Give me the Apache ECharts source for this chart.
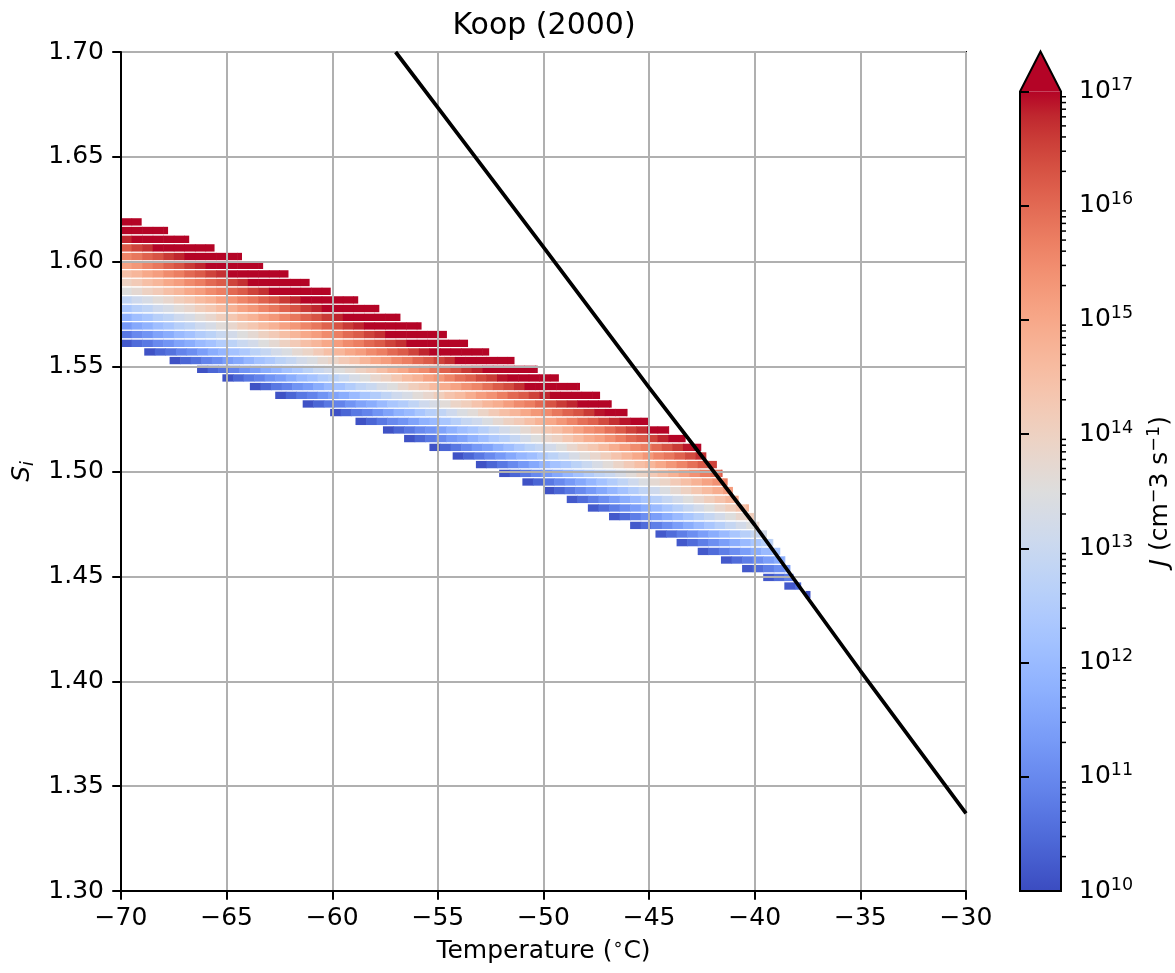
<!DOCTYPE html>
<html><head><meta charset="utf-8">
<script src="https://cdn.jsdelivr.net/npm/echarts@6/dist/echarts.min.js"></script>
<style>html,body{margin:0;padding:0;background:#fff}#c{width:1175px;height:973px}</style>
</head><body><div id="c"></div>
<script>
// ---------------- data ----------------
const xTicks = [-70, -65, -60, -55, -50, -45, -40, -35, -30];
const yTicks = [1.30, 1.35, 1.40, 1.45, 1.50, 1.55, 1.60, 1.65, 1.70];
const cbDecades = [10, 11, 12, 13, 14, 15, 16, 17];   // log10 J colour range
const tStep = 0.5;      // temperature width of one cell (deg C)
const rowHalf = 0.00175; // half height of a row (S_i units)

const rowSi = [1.6190,1.6149,1.6107,1.6066,1.6025,1.5983,1.5942,1.5901,1.5859,1.5818,1.5777,1.5735,1.5694,1.5653,1.5611,
  1.5570,1.5529,1.5487,1.5446,1.5405,1.5363,1.5322,1.5281,1.5239,1.5198,1.5157,1.5115,1.5074,1.5033,1.4991,1.4950,1.4909,
  1.4867,1.4826,1.4785,1.4743,1.4702,1.4661,1.4619,1.4578,1.4537,1.4495,1.4454,1.4413];
const rowTStart = [-70,-70,-70,-70,-70,-70,-70,-70,-70,-70,-70,-70,-70,-70,-70,
  -68.9,-67.7,-66.4,-65.2,-63.9,-62.7,-61.4,-60.1,-58.9,-57.6,-56.6,-55.4,-54.3,-53.2,-52.1,-51.0,-50.0,
  -48.9,-47.9,-46.9,-45.9,-44.7,-43.7,-42.7,-41.6,-40.6,-39.6,-38.6,-37.6];
const rowTEnd = [-69.05,-67.8,-66.8,-65.6,-64.3,-63.3,-62.1,-61.1,-60.1,-58.8,-57.8,-56.8,-55.8,-54.6,-53.6,
  -52.6,-51.4,-50.3,-49.3,-48.3,-47.35,-46.8,-46.05,-45.06,-44.08,-43.3,-42.56,-42.32,-41.82,-41.55,-41.31,-41.06,
  -40.79,-40.3,-40.05,-39.81,-39.45,-39.15,-38.82,-38.58,-38.34,-38.19,-37.83,-37.39];
// log10 J (cm^-3 s^-1) per cell along each row
const rowLogJ = [
 [18.0,18.2],
 [17.3,17.6,17.8,18.1,18.3],
 [16.8,17.1,17.3,17.6,17.8,18.1,18.3],
 [16.2,16.5,16.7,17.0,17.2,17.5,17.7,18.0,18.2],
 [15.6,15.8,16.1,16.3,16.6,16.8,17.1,17.3,17.6,17.8,18.1,18.3],
 [15.1,15.3,15.6,15.8,16.1,16.3,16.6,16.8,17.1,17.3,17.6,17.8,18.1,18.3],
 [14.5,14.7,15.0,15.2,15.5,15.7,16.0,16.2,16.5,16.7,17.0,17.2,17.5,17.7,18.0,18.2],
 [14.0,14.2,14.5,14.7,15.0,15.2,15.5,15.7,16.0,16.2,16.5,16.7,17.0,17.2,17.5,17.7,18.0,18.2],
 [13.5,13.7,14.0,14.2,14.5,14.7,15.0,15.2,15.5,15.7,16.0,16.2,16.5,16.7,17.0,17.2,17.5,17.7,18.0,18.2],
 [12.8,13.1,13.3,13.6,13.8,14.1,14.3,14.6,14.8,15.1,15.3,15.6,15.8,16.1,16.3,16.6,16.8,17.1,17.3,17.6,17.8,18.1,18.3],
 [12.3,12.6,12.8,13.1,13.3,13.6,13.8,14.1,14.3,14.6,14.8,15.1,15.3,15.6,15.8,16.1,16.3,16.6,16.8,17.1,17.3,17.6,17.8,18.1,18.3],
 [11.8,12.1,12.3,12.6,12.8,13.1,13.3,13.6,13.8,14.1,14.3,14.6,14.8,15.1,15.3,15.6,15.8,16.1,16.3,16.6,16.8,17.1,17.3,17.6,17.8,18.1,18.3],
 [11.3,11.6,11.8,12.1,12.3,12.6,12.8,13.1,13.3,13.6,13.8,14.1,14.3,14.6,14.8,15.1,15.3,15.6,15.8,16.1,16.3,16.6,16.8,17.1,17.3,17.6,17.8,18.1,18.3],
 [10.7,11.0,11.2,11.5,11.7,12.0,12.2,12.5,12.7,13.0,13.2,13.5,13.7,14.0,14.2,14.5,14.7,15.0,15.2,15.5,15.7,16.0,16.2,16.5,16.7,17.0,17.2,17.5,17.7,18.0,18.2],
 [10.2,10.5,10.7,11.0,11.2,11.5,11.7,12.0,12.2,12.5,12.7,13.0,13.2,13.5,13.7,14.0,14.2,14.5,14.7,15.0,15.2,15.5,15.7,16.0,16.2,16.5,16.7,17.0,17.2,17.5,17.7,18.0,18.2],
 [10.1,10.4,10.6,10.9,11.1,11.4,11.7,11.9,12.2,12.4,12.7,12.9,13.2,13.4,13.7,13.9,14.2,14.5,14.7,15.0,15.2,15.5,15.7,16.0,16.2,16.5,16.8,17.0,17.3,17.5,17.8,18.0,18.3],
 [10.1,10.4,10.6,10.9,11.1,11.4,11.6,11.9,12.2,12.4,12.7,12.9,13.2,13.4,13.7,13.9,14.2,14.4,14.7,15.0,15.2,15.5,15.7,16.0,16.2,16.5,16.7,17.0,17.3,17.5,17.8,18.0,18.3],
 [10.1,10.4,10.6,10.9,11.2,11.4,11.7,11.9,12.2,12.4,12.7,13.0,13.2,13.5,13.7,14.0,14.2,14.5,14.8,15.0,15.3,15.5,15.8,16.1,16.3,16.6,16.8,17.1,17.3,17.6,17.9,18.1,18.4],
 [10.1,10.4,10.7,10.9,11.2,11.4,11.7,12.0,12.2,12.5,12.7,13.0,13.3,13.5,13.8,14.0,14.3,14.6,14.8,15.1,15.3,15.6,15.9,16.1,16.4,16.6,16.9,17.2,17.4,17.7,17.9,18.2],
 [10.1,10.4,10.7,10.9,11.2,11.4,11.7,12.0,12.2,12.5,12.8,13.0,13.3,13.5,13.8,14.1,14.3,14.6,14.9,15.1,15.4,15.6,15.9,16.2,16.4,16.7,17.0,17.2,17.5,17.7,18.0,18.3],
 [10.1,10.4,10.7,10.9,11.2,11.5,11.7,12.0,12.3,12.5,12.8,13.1,13.3,13.6,13.8,14.1,14.4,14.6,14.9,15.2,15.4,15.7,16.0,16.2,16.5,16.8,17.0,17.3,17.6,17.8,18.1],
 [10.1,10.4,10.7,10.9,11.2,11.5,11.7,12.0,12.3,12.5,12.8,13.1,13.3,13.6,13.9,14.1,14.4,14.7,14.9,15.2,15.5,15.7,16.0,16.3,16.6,16.8,17.1,17.4,17.6,17.9],
 [10.1,10.4,10.7,10.9,11.2,11.5,11.8,12.0,12.3,12.6,12.8,13.1,13.4,13.6,13.9,14.2,14.5,14.7,15.0,15.3,15.5,15.8,16.1,16.3,16.6,16.9,17.2,17.4,17.7],
 [10.1,10.4,10.7,11.0,11.2,11.5,11.8,12.0,12.3,12.6,12.9,13.1,13.4,13.7,14.0,14.2,14.5,14.8,15.0,15.3,15.6,15.9,16.1,16.4,16.7,16.9,17.2,17.5],
 [10.1,10.4,10.7,11.0,11.2,11.5,11.8,12.1,12.3,12.6,12.9,13.2,13.4,13.7,14.0,14.3,14.5,14.8,15.1,15.4,15.6,15.9,16.2,16.5,16.7,17.0,17.3,17.6],
 [10.1,10.4,10.7,11.0,11.3,11.5,11.8,12.1,12.4,12.6,12.9,13.2,13.5,13.8,14.0,14.3,14.6,14.9,15.1,15.4,15.7,16.0,16.2,16.5,16.8,17.1,17.4],
 [10.1,10.4,10.7,11.0,11.3,11.5,11.8,12.1,12.4,12.7,12.9,13.2,13.5,13.8,14.1,14.3,14.6,14.9,15.2,15.5,15.7,16.0,16.3,16.6,16.9,17.1],
 [10.1,10.4,10.7,11.0,11.3,11.6,11.9,12.1,12.4,12.7,13.0,13.3,13.6,13.8,14.1,14.4,14.7,15.0,15.3,15.6,15.8,16.1,16.4,16.7],
 [10.1,10.4,10.7,11.0,11.3,11.6,11.9,12.2,12.4,12.7,13.0,13.3,13.6,13.9,14.2,14.5,14.7,15.0,15.3,15.6,15.9,16.2,16.5],
 [10.1,10.4,10.7,11.0,11.3,11.6,11.9,12.2,12.5,12.8,13.0,13.3,13.6,13.9,14.2,14.5,14.8,15.1,15.4,15.7,15.9,16.2],
 [10.1,10.4,10.7,11.0,11.3,11.6,11.9,12.2,12.5,12.8,13.1,13.4,13.7,13.9,14.2,14.5,14.8,15.1,15.4,15.7],
 [10.1,10.4,10.7,11.0,11.3,11.6,11.9,12.2,12.5,12.8,13.1,13.4,13.7,14.0,14.3,14.6,14.9,15.2],
 [10.2,10.5,10.8,11.1,11.4,11.7,12.0,12.3,12.6,12.9,13.2,13.5,13.8,14.1,14.4,14.7,15.0],
 [10.2,10.5,10.8,11.1,11.4,11.7,12.0,12.3,12.6,12.9,13.2,13.5,13.8,14.1,14.4,14.7],
 [10.2,10.5,10.8,11.1,11.4,11.7,12.0,12.3,12.6,12.9,13.2,13.5,13.8,14.1],
 [10.2,10.5,10.8,11.1,11.4,11.7,12.0,12.3,12.6,12.9,13.2,13.5,13.8],
 [10.2,10.5,10.8,11.1,11.4,11.7,12.0,12.3,12.6,12.9,13.2],
 [10.2,10.5,10.8,11.1,11.4,11.7,12.0,12.3,12.6,12.9],
 [10.2,10.5,10.8,11.1,11.4,11.7,12.0,12.3],
 [10.2,10.5,10.8,11.1,11.4,11.7,12.0],
 [10.2,10.5,10.8,11.1,11.4],
 [10.2,10.5,10.8],
 [10.2,10.5],
 [10.1]
];

// black reference line (T, S_i)
const lineT  = [-57.0, -55.0, -50.0, -45.0, -40.0, -35.0, -30.0];
const lineSi = [1.700, 1.6735, 1.607, 1.540, 1.4745, 1.405, 1.337];

// ---------------- style helpers ----------------
const FONT = 'DejaVu Sans';
const CW = [[59,76,192],[68,90,204],[77,104,215],[87,117,225],[98,130,234],[108,142,241],[119,154,247],[130,165,251],
 [141,176,254],[152,185,255],[163,194,255],[174,201,253],[184,208,249],[194,213,244],[204,217,238],[213,219,230],
 [221,221,221],[229,216,209],[236,211,197],[241,204,185],[245,196,173],[247,187,160],[247,177,148],[247,166,135],
 [244,154,123],[241,141,111],[236,127,99],[229,112,88],[222,96,77],[213,80,66],[203,62,56],[192,40,47],[180,4,38]];
const cbMin = cbDecades[0], cbMax = cbDecades[cbDecades.length - 1];
function rgb(c) { return 'rgb(' + c.map(Math.round).join(',') + ')'; }
function colorFor(v) {
  let t = (v - cbMin) / (cbMax - cbMin);
  t = Math.max(0, Math.min(1, t));
  const x = t * (CW.length - 1);
  const i = Math.min(CW.length - 2, Math.floor(x));
  const f = x - i;
  return rgb([0,1,2].map(k => CW[i][k] + (CW[i+1][k] - CW[i][k]) * f));
}

const cells = [];
rowSi.forEach((si, r) => {
  rowLogJ[r].forEach((v, i) => {
    const t0 = rowTStart[r] + i * tStep;
    const t1 = Math.min(t0 + tStep, rowTEnd[r]);
    cells.push([t0, t1, si, v]);
  });
});

const minorVals = [];
for (let n = cbMin; n < cbMax; n++) for (let k = 2; k <= 9; k++) minorVals.push([n + Math.log10(k)]);

const chart = echarts.init(document.getElementById('c'), null, {renderer: 'canvas'});
const minus = v => (v < 0 ? '\u2212' : '') + Math.abs(v);
const supRich = {
  n:   {fontSize: 25, lineHeight: 30, fontFamily: FONT, color: '#000'},
  it:  {fontSize: 25, lineHeight: 30, fontFamily: FONT, fontStyle: 'italic', color: '#000'},
  sup: {fontSize: 17.5, lineHeight: 16, fontFamily: FONT, verticalAlign: 'top', color: '#000'},
  sub: {fontSize: 17.5, lineHeight: 16, fontFamily: FONT, fontStyle: 'italic', verticalAlign: 'bottom', color: '#000'},
  b:   {fontSize: 25, lineHeight: 30, fontFamily: FONT, color: '#000'},
  s:   {fontSize: 17.5, lineHeight: 16, fontFamily: FONT, verticalAlign: 'top', color: '#000'}
};

const option = {
  animation: false,
  backgroundColor: '#fff',
  textStyle: {fontFamily: FONT},
  graphic: [{
    type: 'text', x: 544, y: 26, z: 10,
    style: {text: 'Koop (2000)', fontSize: 30, fontFamily: FONT, fill: '#000', align: 'center', verticalAlign: 'middle'}
  }],
  grid: [
    {left: 121, top: 52, width: 845, height: 839, show: true, borderColor: '#000', borderWidth: 2, backgroundColor: 'transparent'},
    {left: 1020, top: 91.5, width: 41, height: 799.5}
  ],
  xAxis: [{
    gridIndex: 0, type: 'value', min: xTicks[0], max: xTicks[xTicks.length - 1], interval: xTicks[1] - xTicks[0], z: 3,
    axisLine: {onZero: false, lineStyle: {color: '#000', width: 2}},
    axisTick: {show: true, length: 8.75, lineStyle: {color: '#000', width: 2}},
    splitLine: {show: true, lineStyle: {color: '#b0b0b0', width: 2}},
    axisLabel: {fontSize: 25, color: '#000', margin: 15, formatter: minus},
    name: '{n|Temperature (}{sup|\u2218}{n|C)}', nameLocation: 'middle', nameGap: 45,
    nameTextStyle: {fontSize: 25, color: '#000', rich: supRich}
  }, {
    gridIndex: 1, type: 'value', min: 0, max: 1, show: false
  }],
  yAxis: [{
    gridIndex: 0, type: 'value', min: yTicks[0], max: yTicks[yTicks.length - 1], interval: 0.05, z: 3,
    axisLine: {onZero: false, lineStyle: {color: '#000', width: 2}},
    axisTick: {show: true, length: 8.75, lineStyle: {color: '#000', width: 2}},
    splitLine: {show: true, lineStyle: {color: '#b0b0b0', width: 2}},
    axisLabel: {fontSize: 25, color: '#000', margin: 17, formatter: v => v.toFixed(2)},
    name: '{it|S}{sub|i}', nameLocation: 'middle', nameRotate: 90, nameGap: 83,
    nameTextStyle: {fontSize: 25, color: '#000', rich: supRich}
  }, {
    gridIndex: 1, type: 'value', min: cbMin, max: cbMax, interval: 1, position: 'right', z: 5,
    axisLine: {show: false},
    axisTick: {show: true, length: 9, lineStyle: {color: '#000', width: 2}},
    splitLine: {show: false},
    axisLabel: {margin: 18, formatter: v => '{b|10}{s|' + v + '}', rich: supRich},
    name: '{it|J}{n| (cm}{sup|\u2212}{n|3 s}{sup|\u22121}{n|)}', nameLocation: 'middle', nameRotate: 90, nameGap: 84,
    nameTextStyle: {fontSize: 25, color: '#000', rich: supRich}
  }],
  series: [{
    type: 'custom', xAxisIndex: 0, yAxisIndex: 0, z: 2, clip: true, silent: true,
    encode: {x: [0, 1], y: 2},
    data: cells,
    renderItem: (params, api) => {
      const a = api.coord([api.value(0), api.value(2) + rowHalf]);
      const b = api.coord([api.value(1), api.value(2) - rowHalf]);
      return {type: 'rect', shape: {x: a[0], y: a[1], width: b[0] - a[0] + 0.6, height: b[1] - a[1]},
              style: {fill: colorFor(api.value(3))}};
    }
  }, {
    type: 'line', xAxisIndex: 0, yAxisIndex: 0, z: 6, silent: true, clip: true,
    data: lineT.map((t, i) => [t, lineSi[i]]), showSymbol: false,
    lineStyle: {color: '#000', width: 3.75}
  }, {
    type: 'custom', xAxisIndex: 1, yAxisIndex: 1, z: 4, silent: true,
    data: [[0]],
    renderItem: (params, api) => {
      const extend = cbMax + 0.05 * (cbMax - cbMin);
      const p00 = api.coord([0, cbMin]), p01 = api.coord([0, cbMax]);
      const p11 = api.coord([1, cbMax]), p10 = api.coord([1, cbMin]);
      const apex = api.coord([0.5, extend]);
      const stops = CW.map((c, k) => ({offset: k / (CW.length - 1), color: rgb(c)}));
      return {type: 'group', children: [
        {type: 'rect', shape: {x: p01[0], y: p01[1], width: p11[0] - p01[0], height: p00[1] - p01[1]},
         style: {fill: new echarts.graphic.LinearGradient(0, 1, 0, 0, stops)}},
        {type: 'polygon', shape: {points: [p01, p11, apex]}, style: {fill: colorFor(cbMax)}},
        {type: 'polygon', shape: {points: [p00, p01, apex, p11, p10]},
         style: {fill: 'none', stroke: '#000', lineWidth: 2}}
      ]};
    }
  }, {
    type: 'custom', xAxisIndex: 1, yAxisIndex: 1, z: 4, silent: true,
    data: minorVals,
    renderItem: (params, api) => {
      const p = api.coord([1, api.value(0)]);
      return {type: 'line', shape: {x1: p[0], y1: p[1], x2: p[0] + 5, y2: p[1]},
              style: {stroke: '#000', lineWidth: 1.5}};
    }
  }]
};
chart.setOption(option);
</script></body></html>
